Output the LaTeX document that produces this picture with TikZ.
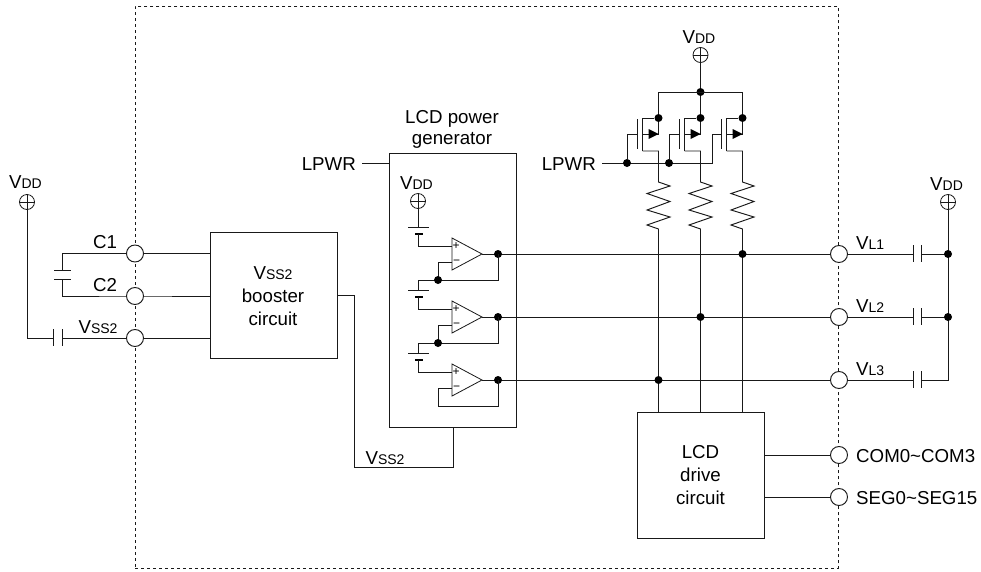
\documentclass[tikz,border=0pt]{standalone}
\usepackage{fontspec}
\setmainfont{Liberation Sans}
\newcommand{\sm}[1]{{\fontsize{14}{15}\selectfont #1}}
\tikzset{
  wire/.style={draw=black!90,line width=0.95pt,line join=miter},
  box/.style={draw=black!90,line width=0.95pt,fill=none,inner sep=0pt},
  term/.style={circle,draw=black!90,line width=0.95pt,fill=white,minimum size=17pt,inner sep=0pt},
  vcc/.style={circle,draw=black!90,line width=0.8pt,fill=none,minimum size=15pt,inner sep=0pt,path picture={\draw[black!90,line width=0.8pt] (path picture bounding box.north)--(path picture bounding box.south) (path picture bounding box.west)--(path picture bounding box.east);}},
  dotn/.style={circle,fill=black,minimum size=8pt,inner sep=0pt},
  lab/.style={font=\fontsize{18.7}{20}\selectfont,anchor=base,inner sep=0pt},
  sign/.style={font=\fontsize{12}{12}\selectfont,inner sep=0pt},
  plate/.style={draw=black!90,line width=0.95pt},
  heavyplate/.style={draw=black,line width=2pt},
}
\begin{document}
\begin{tikzpicture}[x=1pt,y=-1pt]
\useasboundingbox (0,0) rectangle (981,571);
\node[draw=black!90,line width=0.8pt,dash pattern=on 3pt off 3pt,minimum width=703pt,minimum height=562pt,inner sep=0pt,anchor=north west] (frame) at (135,6) {};

% boxes
\node[box,minimum width=127pt,minimum height=126pt,anchor=north west] (boost) at (210,232) {};
\node[box,minimum width=127pt,minimum height=274pt,anchor=north west] (gen) at (389,153) {};
\node[box,minimum width=127pt,minimum height=126pt,anchor=north west] (drive) at (637,412) {};
\node[lab] (bt1) at (273,279) {V\sm{SS2}};
\node[lab] (bt2) at (273,302) {booster};
\node[lab] (bt3) at (273,325.5) {circuit};
\node[lab] (dt1) at (700.5,458) {LCD};
\node[lab] (dt2) at (700.5,481) {drive};
\node[lab] (dt3) at (700.5,504) {circuit};
\node[lab] (gt1) at (452,123) {LCD power};
\node[lab] (gt2) at (452,144) {generator};

% left terminals
\coordinate (c12a) at (62,270);
\coordinate (c12b) at (62,279);
\coordinate (cva) at (53,338);
\coordinate (cvb) at (62,338);
\node[lab] (vl) at (25.5,188) {V\sm{DD}};
\node[vcc] (vccl) at (27,202) {};
\draw[wire] (vccl) |- (cva);
\draw[wire] (c12a) |- (135,253.5) -- (210,253.5);
\draw[wire] (c12b) |- (135,296) -- (210,296);
\draw[wire] (cvb) -- (210,338);
\draw[plate] (54,270) -- (71,270) (54,279) -- (71,279);
\draw[plate] (53,329) -- (53,346) (62,329) -- (62,346);
\node[term] (tc1) at (135,253.5) {};
\node[term] (tc2) at (135,296) {};
\node[term] (tv) at (135,338) {};
\node[lab] (lc1) at (105,248) {C1};
\node[lab] (lc2) at (105,291) {C2};
\node[lab] (lv) at (98,333) {V\sm{SS2}};

% booster output
\coordinate (bo) at (337,295);
\coordinate (bb) at (453,467);
\draw[wire] (bo) -- (354,295) -- (354,467) -- (bb) -- (453,427);
\node[lab] (vss) at (385,464) {V\sm{SS2}};

% generator input
\node[lab,anchor=base east] (lp1) at (356,170) {LPWR};
\draw[wire] (362,163) -- (389,163);

% reference chain in generator
\node[lab] (vg) at (416.5,189) {V\sm{DD}};
\node[vcc] (vccg) at (418,201) {};
\draw[wire] (vccg) -- (418,227);
\foreach \py/\sy in {227/234,290/297,353/360}{
  \draw[plate] (408,\py) -- (429,\py);
  \draw[heavyplate] (415,\sy) -- (423,\sy);
}
% op-amps
\foreach \n/\y in {a/238,b/301,c/364}{
  \coordinate (o\n p) at (452,\y+8);
  \coordinate (o\n m) at (452,\y+24);
  \coordinate (o\n o) at (482,\y+16);
  \coordinate (o\n d) at (498,\y+16);
  \draw[wire] (418,\y-4) -- (418,\y+8) -- (o\n p);
  \draw[wire] (o\n o) -- (839,\y+16);
  \draw[draw=black!90,line width=0.8pt,line join=miter,fill=white] (452,\y) -- (452,\y+32) -- (o\n o) -- cycle;
  \node[sign] (s\n p) at (456,\y+8.5) {+};
  \node[sign] (s\n m) at (456.5,\y+24) {−};
  \node[dotn] (d\n) at (o\n d) {};
}
\draw[wire] (oam) -- (438,262) -- (438,280);
\draw[wire] (418,290) -- (418,280) -- (498,280) -- (oad);
\node[dotn] (j1) at (438,280) {};
\draw[wire] (obm) -- (438,325) -- (438,343);
\draw[wire] (418,353) -- (418,343) -- (498,343) -- (obd);
\node[dotn] (j2) at (438,343) {};
\draw[wire] (ocm) -- (438,388) -- (438,406) -- (498,406) -- (ocd);

% top VDD and transistors
\node[lab] (vt) at (699,43) {V\sm{DD}};
\node[vcc] (vcct) at (700.5,55) {};
\node[dotn] (top) at (700.5,92) {};
\draw[wire] (vcct) -- (top);
\draw[wire] (658.5,118) -- (658.5,92) -- (742.5,92) -- (742.5,118);
\draw[wire] (top) -- (700.5,118);
\draw[wire] (602,163) -- (712,163) -- (712,134) -- (722,134);
\node[lab,anchor=base east] (lp2) at (596,170) {LPWR};
\node[dotn] (g1) at (627,163) {};
\node[dotn] (g2) at (669,163) {};
\draw[wire] (g1) -- (627,134) -- (637,134);
\draw[wire] (g2) -- (669,134) -- (679,134);
\foreach \n/\x in {p/658.5,q/700.5,r/742.5}{
  \node[dotn] (t\n) at (\x,118) {};
  \draw[wire] (t\n) -- (\x,134);
  \draw[plate] (\x-16,118) -- (\x-16,151);
  \draw[plate] (\x-21,119) -- (\x-21,149);
  \draw[wire] (\x-16,118) -- (t\n);
  \draw[wire] (\x-16,134) -- (\x,134);
  \fill[black] (\x-10,129) -- (\x,134) -- (\x-10,139) -- cycle;
  \draw[wire,line join=miter] (\x-16,151) -- (\x,151) -- (\x,182) -- (\x+11.5,186) -- (\x-11.5,193.5) -- (\x+11.5,201.5) -- (\x-11.5,210) -- (\x+11.5,217) -- (\x-11.5,225) -- (\x,229) -- (\x,412);
}

% output terminals
\node[dotn] (n1) at (742.5,254) {};
\node[dotn] (n2) at (700.5,317) {};
\node[dotn] (n3) at (658.5,380) {};
\foreach \n/\y/\t in {a/254/1,b/317/2,c/380/3}{
  \draw[wire] (839,\y) -- (913,\y);
  \draw[plate] (913,\y-9) -- (913,\y+8) (921,\y-9) -- (921,\y+8);
  \node[term] (tv\n) at (839,\y) {};
  \node[lab,anchor=base west] (lv\n) at (856,\y-5) {V\sm{L\t}};
}
\node[lab] (vr) at (946.5,190) {V\sm{DD}};
\node[vcc] (vccr) at (948,202) {};
\draw[wire] (vccr) -- (948,380) -- (921,380);
\draw[wire] (921,254) -- (948,254);
\draw[wire] (921,317) -- (948,317);
\node[dotn] (ra) at (948,254) {};
\node[dotn] (rb) at (948,317) {};

% drive outputs
\coordinate (dc) at (764,455);
\coordinate (ds) at (764,497);
\draw[wire] (dc) -- (839,455);
\draw[wire] (ds) -- (839,497);
\node[term] (tcom) at (839,455) {};
\node[term] (tseg) at (839,497) {};
\node[lab,anchor=base west] (lcom) at (856,462) {COM0\textasciitilde COM3};
\node[lab,anchor=base west] (lseg) at (856,504) {SEG0\textasciitilde SEG15};
\end{tikzpicture}
\end{document}
